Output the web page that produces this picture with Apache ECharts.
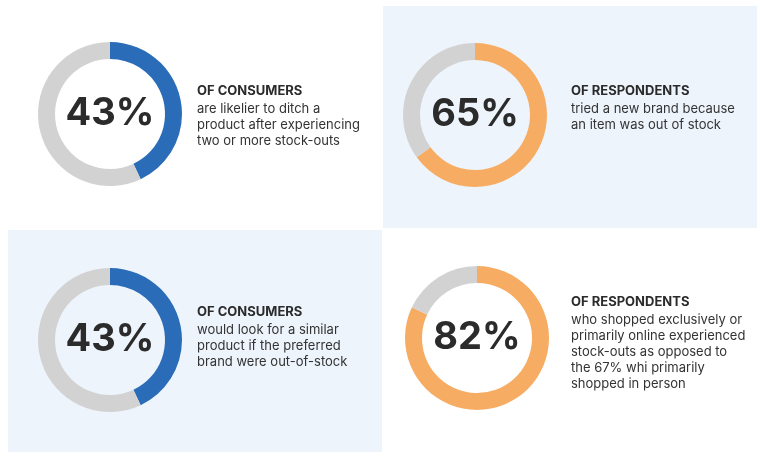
<!DOCTYPE html>
<html><head><meta charset="utf-8">
<script src="https://cdn.jsdelivr.net/npm/echarts@6/dist/echarts.min.js"></script>
<style>html,body{margin:0;padding:0;background:#fff}#c{width:760px;height:459px}</style>
</head><body><div id="c"></div>
<script>
const percents = [43, 65, 43, 82];
const colors = ['#2b6cb8', '#f6ad63', '#2b6cb8', '#f6ad63'];
const headlines = ['OF CONSUMERS', 'OF RESPONDENTS', 'OF CONSUMERS', 'OF RESPONDENTS'];
const bodies = [
  'are likelier to ditch a\nproduct after experiencing\ntwo or more stock-outs',
  'tried a new brand because\nan item was out of stock',
  'would look for a similar\nproduct if the preferred\nbrand were out-of-stock',
  'who shopped exclusively or\nprimarily online experienced\nstock-outs as opposed to\nthe 67% whi primarily\nshopped in person'
];
const centers = [[110,114],[475,115],[110,340],[477,338]];
const textPos = [[197,85],[571,85],[197,306],[571,296]];
const FONT = '"Inter","Roboto",sans-serif';
const series = percents.map((p,i)=>({
  type:'pie', radius:[55,72], center:centers[i], silent:true, startAngle:90, clockwise:true,
  label:{show:false}, labelLine:{show:false},
  data:[{value:p,itemStyle:{color:colors[i]}},{value:100-p,itemStyle:{color:'#d2d2d2'}}]
}));
const graphic = [
  {type:'rect',z:-10,shape:{x:383,y:6,width:374,height:222},style:{fill:'#eef4fc'}},
  {type:'rect',z:-10,shape:{x:8,y:230,width:374,height:222},style:{fill:'#eef4fc'}}
];
percents.forEach((p,i)=>{
  graphic.push({type:'text',x:centers[i][0],y:centers[i][1],style:{text:p+'%',fill:'#2b2b2b',font:'bold 38px '+FONT,textAlign:'center',textVerticalAlign:'middle'}});
  graphic.push({type:'text',x:textPos[i][0],y:textPos[i][1],style:{text:headlines[i],fill:'#2b2b2b',font:'bold 13px '+FONT}});
  graphic.push({type:'text',x:textPos[i][0],y:textPos[i][1]+16,style:{text:bodies[i],fill:'#333',font:'13px '+FONT,lineHeight:16}});
});
const chart = echarts.init(document.getElementById('c'));
chart.setOption({animation:false,series,graphic});
</script></body></html>
